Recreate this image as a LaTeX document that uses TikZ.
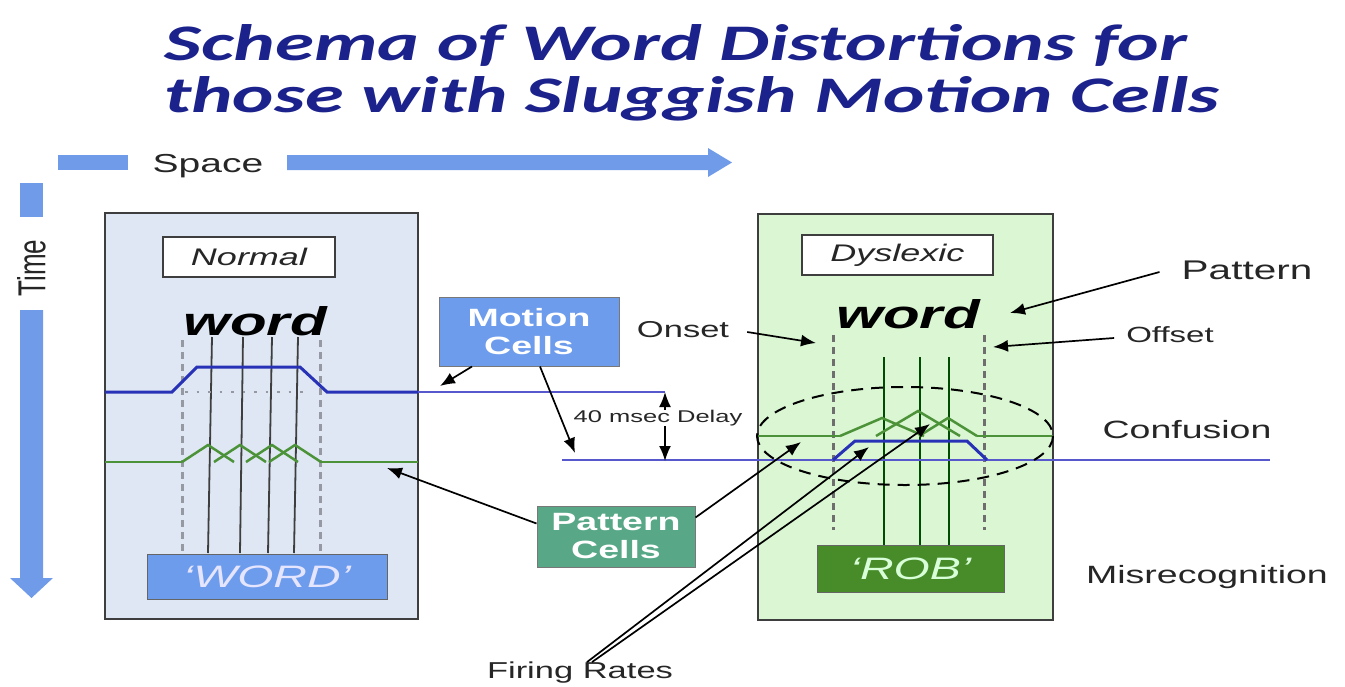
\documentclass[tikz,border=0pt]{standalone}
\usepackage{fontspec}
\setmainfont{Liberation Sans}
\newfontfamily\titlefont{Carlito}
\usepackage{graphicx}
\usetikzlibrary{calc}
\usetikzlibrary{arrows.meta}

\definecolor{titleblue}{RGB}{28,34,140}
\definecolor{axisblue}{RGB}{112,155,232}
\definecolor{normalfill}{RGB}{222,231,243}
\definecolor{dysfill}{RGB}{218,246,210}
\definecolor{framegray}{RGB}{62,62,62}
\definecolor{boldblue}{RGB}{40,50,182}
\definecolor{thinblue}{RGB}{88,88,205}
\definecolor{firinggreen}{RGB}{76,146,56}
\definecolor{motionfill}{RGB}{110,156,236}
\definecolor{patternfill}{RGB}{88,168,136}
\definecolor{robfill}{RGB}{72,140,42}
\definecolor{guidegray}{RGB}{150,152,162}
\definecolor{textgray}{RGB}{38,38,38}

% the reference text is stretched sideways
\newcommand{\wider}[1]{\scalebox{1.5}[1]{#1}}

\tikzset{
  title/.style={font=\titlefont\bfseries\itshape, text=titleblue, inner sep=0pt},
  tag/.style={font=\fontsize{25}{25}\selectfont, text=textgray, inner sep=0pt},
  panel/.style={draw=framegray, line width=2pt},
  namebox/.style={draw=framegray, fill=white, line width=1.5pt, inner sep=0pt,
    font=\itshape\fontsize{24}{24}\selectfont, text=textgray},
  wordtext/.style={font=\bfseries\itshape\fontsize{40}{40}\selectfont, inner sep=0pt},
  cellbox/.style={draw=framegray!70, line width=1pt, inner sep=0pt, align=center,
    text=white, font=\bfseries\fontsize{25}{28}\selectfont},
  namebar/.style={draw=framegray!80, line width=1pt, inner sep=0pt,
    font=\itshape\fontsize{31}{31}\selectfont},
  guide/.style={line width=3pt, dash pattern=on 7pt off 5pt},
  guidedots/.style={guidegray, line width=2.5pt, dash pattern=on 2.5pt off 9pt},
  pointer/.style={-{Latex[length=15pt,width=12pt]}, line width=1.7pt, black},
  motion/.style={boldblue, line width=3pt},
  motionthin/.style={thinblue, line width=1.8pt},
  firing/.style={firinggreen, line width=2.5pt}
}

\begin{document}
\begin{tikzpicture}[x=1pt,y=-1pt]
\useasboundingbox (0,0) rectangle (1345,686);

\node[title, anchor=base] (title1) at (676,60) {\resizebox{1023pt}{36pt}{Schema of Word Distortions for}};
\node[title, anchor=base] (title2) at (692,112) {\resizebox{1055pt}{36pt}{those with Sluggish Motion Cells}};

% space and time axes
\fill[axisblue] (58,155) rectangle (128,170);
\fill[axisblue] (287,155) -- (708,155) -- (708,148) -- (732,162.5) -- (708,177) -- (708,170) -- (287,170) -- cycle;
\node[tag, font=\fontsize{26}{26}\selectfont] (space) at (208,166) {\wider{Space}};
\fill[axisblue] (20,183) rectangle (43,217);
\fill[axisblue] (20,310) -- (20,578) -- (10,578) -- (31.5,598) -- (53,578) -- (43,578) -- (43,310) -- cycle;
\node[tag, font=\fontsize{26}{26}\selectfont, rotate=90] (time) at (31.5,268) {\scalebox{1}[1.5]{Time}};

% the two panels
\draw[panel, fill=normalfill] (105,213) rectangle (418,619);
\draw[panel, fill=dysfill] (758,214) rectangle (1053,620);
\node[namebox, minimum width=172pt, minimum height=40pt] (normal) at (249,257) {\wider{Normal}};
\node[namebox, minimum width=191pt, minimum height=40pt] (dyslexic) at (897.5,255) {\wider{Dyslexic}};
\node[wordtext, anchor=base] (wordL) at (255,335) {\wider{word}};
\node[wordtext, anchor=base] (wordR) at (908,328) {\wider{word}};

% normal reader
\foreach \x in {182,320}
  \draw[guide, guidegray] (\x,340) -- (\x,553);
\foreach \xa/\xb in {212/208, 243/240, 272/268, 298/294}
  \draw[framegray, line width=1.8pt] (\xa,337) -- (\xb,553);
\draw[guidedots] (185,392) -- (310,392);
\draw[motion] (105,392) -- (172,392) -- (197,367) -- (300,367) -- (327,392) -- (418,392);
\draw[motionthin] (418,392) -- (665,392);
\draw[firing] (105,462) -- (182,462);
\foreach \p in {208,240,272,295}
  \draw[firing] (\p-26,462) -- (\p,445) -- (\p+26,462);
\draw[firing] (320,462) -- (418,462);
\node[namebar, fill=motionfill, text=white!90!blue, minimum width=240pt, minimum height=45pt] (WORD) at (267,576.5) {\wider{‘WORD’}};

% dyslexic reader
\foreach \x in {833,984}
  \draw[guide, framegray!75] (\x,335) -- (\x,530);
\foreach \x in {884,920,949}
  \draw[black!70!green, line width=1.8pt] (\x,357) -- (\x,545);
\draw[guidedots] (880,460) -- (975,460);
\draw[motionthin] (562,460) -- (1270,460);
\draw[motion] (833,460) -- (855,441) -- (967,441) -- (987,460);
\draw[firing] (757,436) -- (840,436);
\draw[firing] (840,436) -- (882,418) -- (924,436);
\draw[firing] (876,436) -- (918,411) -- (960,436);
\draw[firing] (919,436) -- (948,418) -- (977,436);
\draw[firing] (977,436) -- (1053,436);
\draw[black, line width=2pt, dash pattern=on 12pt off 8pt] (905,436) ellipse [x radius=148, y radius=49];
\node[namebar, fill=robfill, text=green!15!white, minimum width=187pt, minimum height=47pt] (ROB) at (910.5,568.5) {\wider{‘ROB’}};

% cell boxes and labels
\node[cellbox, fill=motionfill, minimum width=180pt, minimum height=69pt] (motion) at (529,331.5) {\wider{Motion}\\\wider{Cells}};
\node[cellbox, fill=patternfill, minimum width=158pt, minimum height=61pt] (pattern) at (616,536.5) {\wider{Pattern}\\\wider{Cells}};
\node[tag, font=\fontsize{17}{17}\selectfont] (delay) at (658,418) {\wider{40 msec Delay}};
\node[tag, font=\fontsize{23}{23}\selectfont] (onset) at (683,330) {\wider{Onset}};
\node[tag, font=\fontsize{27}{27}\selectfont] (patlabel) at (1247,270) {\wider{Pattern}};
\node[tag, font=\fontsize{22}{22}\selectfont] (offset) at (1170,335) {\wider{Offset}};
\node[tag] (confusion) at (1187,430) {\wider{Confusion}};
\node[tag] (misrec) at (1207,577) {\wider{Misrecognition}};
\node[tag, font=\fontsize{23}{23}\selectfont] (firing) at (580,673) {\wider{Firing Rates}};

% arrow tips
\coordinate (blueL) at (440,386);
\coordinate (blueR) at (575,453);
\coordinate (upperline) at (665,392);
\coordinate (lowerline) at (665,461);
\coordinate (greenL) at (387,468);
\coordinate (greenR) at (801,442);
\coordinate (rateA) at (869,447);
\coordinate (rateB) at (930,424);
\coordinate (onsetTip) at (816,343);
\coordinate (patTip) at (1010,313);
\coordinate (offsetTip) at (993,347);

\draw[pointer] ($(motion.south)+(-57,0)$) -- (blueL);
\draw[pointer] ($(motion.south)+(11,0)$) -- (blueR);
\draw[pointer] (delay.north -| upperline) -- (upperline);
\draw[pointer] (delay.south -| lowerline) -- (lowerline);
\draw[pointer] ($(pattern.west)+(0,-13)$) -- (greenL);
\draw[pointer] ($(pattern.east)+(0,-19)$) -- (greenR);
\draw[pointer] ($(firing.north)+(7,0)$) -- (rateA);
\draw[pointer] ($(firing.north)+(12,0)$) -- (rateB);
\draw[pointer] ($(onset.east)+(18,2)$) -- (onsetTip);
\draw[pointer] ($(patlabel.west)+(-22,2)$) -- (patTip);
\draw[pointer] ($(offset.west)+(-12,3)$) -- (offsetTip);

\end{tikzpicture}
\end{document}
